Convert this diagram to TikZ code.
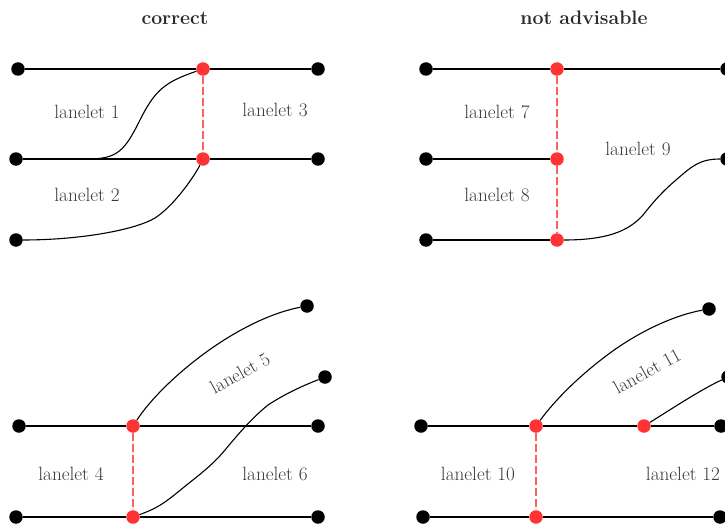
\documentclass[tikz,border=0pt]{standalone}
\definecolor{redpt}{HTML}{FF3333}
\definecolor{redln}{HTML}{FF6060}
\definecolor{lblgray}{HTML}{3A3A3A}
\definecolor{ttlgray}{HTML}{2A2A2A}
\begin{document}
\begin{tikzpicture}[x=1pt,y=-1pt,
 dot/.style={circle,fill=black,inner sep=0pt,minimum size=13.5pt},
 rdot/.style={circle,fill=redpt,inner sep=0pt,minimum size=13.5pt},
 lane/.style={line width=1.1pt,black},
 sep/.style={line width=1.5pt,redln,dash pattern=on 8pt off 3pt},
 lbl/.style={text=lblgray,font=\fontsize{19.2}{22}\selectfont},
 ttl/.style={text=ttlgray,font=\fontsize{19.5}{23}\selectfont\bfseries}]
\useasboundingbox (0,0) rectangle (725,524);
\clip (0,0) rectangle (725,524);
% titles
\node[ttl] (t1) at (175,18) {correct};
\node[ttl] (t2) at (584,18) {not advisable};
% top-left
\node[dot] (a1) at (18,69) {};
\node[rdot] (a2) at (203,69) {};
\node[dot] (a3) at (318,69) {};
\node[dot] (b1) at (16,159) {};
\node[rdot] (b2) at (203,159) {};
\node[dot] (b3) at (318,159) {};
\node[dot] (c1) at (16,240) {};
\coordinate (m1) at (88,159);
\draw[lane] (a1) -- (a2) -- (a3);
\draw[lane] (b1) -- (b2) -- (b3);
\draw[lane] (m1) .. controls (118,159) and (125,150) .. (140,120) .. controls (155,90) and (165,82) .. (a2);
\draw[lane] (c1) .. controls (80,240) and (135,230) .. (155,218) .. controls (175,205) and (195,175) .. (b2);
\draw[sep] (a2) -- (b2);
\node[lbl] (l1) at (87,112) {lanelet 1};
\node[lbl] (l2) at (87,195) {lanelet 2};
\node[lbl] (l3) at (275,110) {lanelet 3};
% top-right
\node[dot] (d1) at (426,69) {};
\node[rdot] (d2) at (557,69) {};
\node[dot] (d3) at (727,69) {};
\node[dot] (e1) at (426,159) {};
\node[rdot] (e2) at (557,159) {};
\node[dot] (e3) at (727,159) {};
\node[dot] (f1) at (426,240) {};
\node[rdot] (f2) at (557,240) {};
\draw[lane] (d1) -- (d2) -- (d3);
\draw[lane] (e1) -- (e2);
\draw[lane] (f1) -- (f2);
\draw[lane] (f2) .. controls (605,240) and (628,232) .. (643,215) .. controls (655,200) and (662,192) .. (676,180) .. controls (692,166) and (700,159) .. (e3);
\draw[sep] (d2) -- (e2) -- (f2);
\node[lbl] (l7) at (497,112) {lanelet 7};
\node[lbl] (l8) at (497,195) {lanelet 8};
\node[lbl] (l9) at (638,149) {lanelet 9};
% bottom-left
\node[dot] (g1) at (19,426) {};
\node[rdot] (g2) at (133,426) {};
\node[dot] (g3) at (318,426) {};
\node[dot] (h1) at (16,517) {};
\node[rdot] (h2) at (133,517) {};
\node[dot] (h3) at (318,517) {};
\node[dot] (k) at (307,306) {};
\node[dot] (l) at (325,377) {};
\draw[lane] (g1) -- (g2) -- (g3);
\draw[lane] (h1) -- (h2) -- (h3);
\draw[lane] (g2) .. controls (150,400) and (175,375) .. (205,353) .. controls (235,331) and (270,313) .. (k);
\draw[lane] (h2) .. controls (155,509) and (162,505) .. (178,492) .. controls (195,478) and (212,466) .. (225,450) .. controls (240,432) and (252,418) .. (268,405) .. controls (288,392) and (305,385) .. (l);
\draw[sep] (g2) -- (h2);
\node[lbl] (l4) at (71,474) {lanelet 4};
\node[lbl] (l6) at (275,474) {lanelet 6};
\node[lbl,rotate=29] (l5) at (240,373) {lanelet 5};
% bottom-right
\node[dot] (n1) at (421,426) {};
\node[rdot] (n2) at (536,426) {};
\node[rdot] (n3) at (644,426) {};
\node[dot] (n4) at (721,426) {};
\node[dot] (p1) at (423,517) {};
\node[rdot] (p2) at (536,517) {};
\node[dot] (p3) at (720,517) {};
\node[dot] (q) at (709,309) {};
\node[dot] (s) at (728,377) {};
\draw[lane] (n1) -- (n2) -- (n3) -- (n4);
\draw[lane] (p1) -- (p2) -- (p3);
\draw[lane] (n2) .. controls (555,400) and (580,375) .. (610,353) .. controls (640,331) and (675,315) .. (q);
\draw[lane] (n3) .. controls (670,410) and (700,390) .. (s);
\draw[sep] (n2) -- (p2);
\node[lbl] (l10) at (478,474) {lanelet 10};
\node[lbl] (l12) at (683,474) {lanelet 12};
\node[lbl,rotate=29] (l11) at (647,371) {lanelet 11};
\end{tikzpicture}
\end{document}
